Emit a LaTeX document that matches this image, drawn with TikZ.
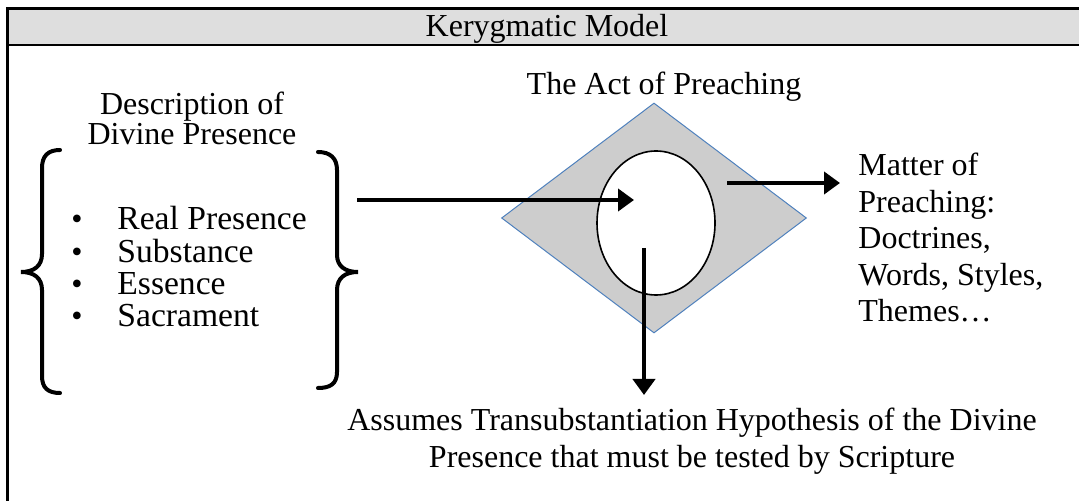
\documentclass[tikz,border=0pt]{standalone}
\usepackage{fontspec}
\setmainfont{Liberation Serif}
\usetikzlibrary{shapes.geometric, arrows.meta}
\definecolor{headgray}{HTML}{DEDEDE}
\definecolor{actgray}{HTML}{CDCDCD}
\definecolor{actblue}{HTML}{4F81BD}

\begin{document}
\begin{tikzpicture}[x=0.5pt, y=-0.5pt,
  every node/.style={font=\fontsize{16}{18}\selectfont, inner sep=0pt},
  bigarrow/.style={line width=2pt, -{Triangle[length=8pt, width=11pt]}},
  bracket/.style={line width=2pt, line cap=round}]
  \useasboundingbox (0,0) rectangle (1079,501);
  \clip (0,0) rectangle (1079,501);
  % frame and header
  \fill[headgray] (7,9) rectangle (1100,45);
  \draw[line width=1.5pt] (7,9) rectangle (1100,520);
  \draw[line width=1pt] (7,45) -- (1100,45);
  \node[anchor=base] (title) at (547,37) {Kerygmatic Model};
  % left column (base of a multi-line node = its last line)
  \node[anchor=base, align=center, font=\fontsize{16}{15.2}\selectfont] (descr) at (192,145) {Description of\\Divine Presence};
  \draw[bracket] (60,150) .. controls (48,150) and (42,156) .. (42,168) -- (42,254)
    .. controls (42,266) and (34,272) .. (21,272) .. controls (34,272) and (42,278) .. (42,290)
    -- (42,376) .. controls (42,388) and (48,393) .. (60,393);
  \draw[bracket] (318,152) .. controls (330,152) and (337,158) .. (337,170) -- (337,255)
    .. controls (337,266) and (345,272) .. (358,272) .. controls (345,272) and (337,278) .. (337,290)
    -- (337,372) .. controls (337,384) and (330,388) .. (318,388);
  \foreach \txt [count=\i] in {Real Presence, Substance, Essence, Sacrament}{
    \node[anchor=base] (bul\i) at (77,{230+32.3*(\i-1)}) {\textbullet};
    \node[anchor=base west, font=\fontsize{16.8}{18}\selectfont] (item\i) at (117,{230+32.3*(\i-1)}) {\txt};
  }
  % the act of preaching
  \node[anchor=base] (act) at (664,95) {The Act of Preaching};
  \node[diamond, minimum width=152.5pt, minimum height=115pt, fill=actgray, draw=actblue, line width=0.5pt] (actshape) at (654,218) {};
  \node[ellipse, minimum width=59pt, minimum height=72pt, fill=white, draw, line width=0.8pt] (core) at (656,223) {};
  % right and bottom texts
  \node[anchor=base west, align=left, font=\fontsize{16}{18.25}\selectfont] (matter) at (858,322) {Matter of\\Preaching:\\Doctrines,\\Words, Styles,\\Themes\ldots};
  \node[anchor=base, align=center, font=\fontsize{16}{18.5}\selectfont] (assume) at (692,467) {Assumes Transubstantiation Hypothesis of the Divine\\Presence that must be tested by Scripture};
  % connectors
  \coordinate (fromlist) at (357,200);
  \coordinate (intocore) at (634,200);
  \coordinate (outcore) at (727,183);
  \coordinate (tomatter) at (840,183);
  \coordinate (downcore) at (644,248);
  \coordinate (toassume) at (644,395);
  \draw[bigarrow] (fromlist) -- (intocore);
  \draw[bigarrow] (outcore) -- (tomatter);
  \draw[bigarrow] (downcore) -- (toassume);
\end{tikzpicture}
\end{document}
